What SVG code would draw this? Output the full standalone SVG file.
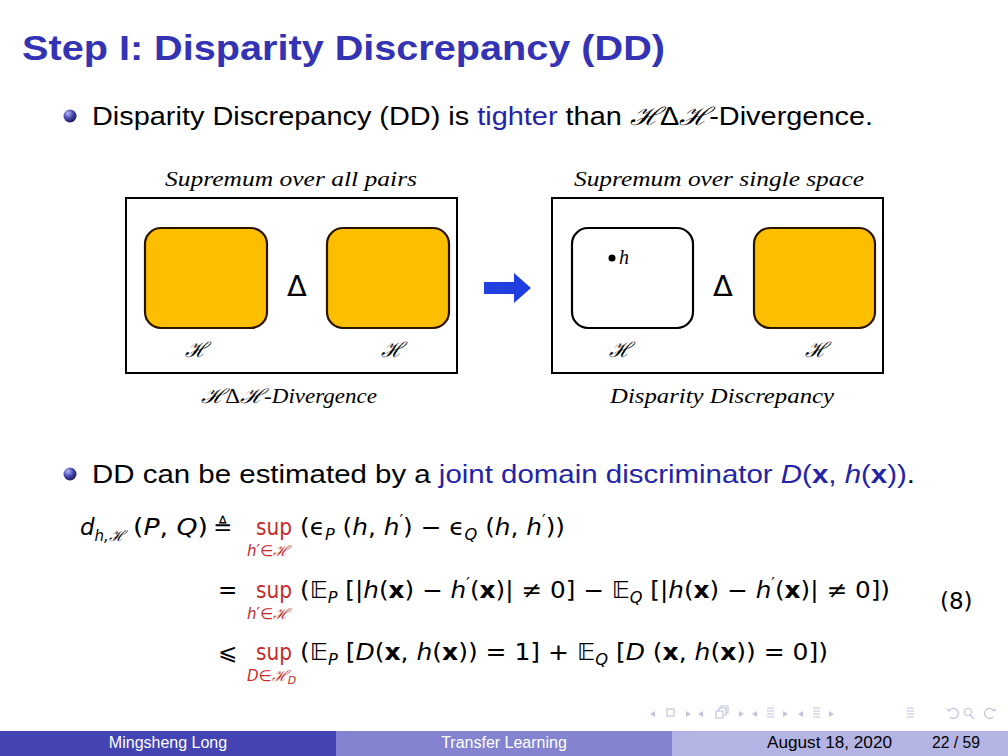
<svg xmlns="http://www.w3.org/2000/svg" width="1008" height="756" viewBox="0 0 1008 756">
<defs>
<radialGradient id="ball" cx="0.35" cy="0.3" r="0.75">
<stop offset="0" stop-color="#b8b8f0"/>
<stop offset="0.5" stop-color="#4a4ab8"/>
<stop offset="1" stop-color="#18184a"/>
</radialGradient>
<style>
.title{font-family:"Liberation Sans","DejaVu Sans",sans-serif;font-weight:bold;font-size:35px;fill:#3333b3}
.body{font-family:"Liberation Sans","DejaVu Sans",sans-serif;font-size:25px;fill:#000}
.blue{fill:#2424a8}
.cap{font-family:"Liberation Serif","DejaVu Serif",serif;font-style:italic;font-size:20px;fill:#000}
.cal{font-family:"DejaVu Serif",serif;font-style:italic;font-size:21px;fill:#000}
.delta{font-family:"DejaVu Sans",sans-serif;font-size:29px;fill:#000}
.box{fill:#fff;stroke:#000;stroke-width:2}
.yel{fill:#fcbf00;stroke:#2a1400;stroke-width:2.2}
.wht{fill:#fff;stroke:#000;stroke-width:2.2}
.m{font-family:"DejaVu Sans","Liberation Sans",sans-serif;font-size:23px;fill:#000}
.it{font-style:italic}
.bx{font-weight:bold}
.red{fill:#c42a2a}
.sub{font-size:15px}
.nav{fill:none;stroke:#c4c4dc;stroke-width:1.2}
.navf{fill:#c4c4dc}
.ft{font-family:"Liberation Sans","DejaVu Sans",sans-serif;font-size:16px}
</style>
</defs>
<rect width="1008" height="756" fill="#fff"/>

<text class="title" x="22" y="60" textLength="643" lengthAdjust="spacingAndGlyphs">Step I: Disparity Discrepancy (DD)</text>

<circle cx="70" cy="116" r="6.5" fill="url(#ball)"/>
<text class="body" x="92" y="125" textLength="781" lengthAdjust="spacingAndGlyphs">Disparity Discrepancy (DD) is <tspan class="blue">tighter</tspan> than <tspan font-family="DejaVu Serif" font-style="italic">ℋ</tspan>Δ<tspan font-family="DejaVu Serif" font-style="italic">ℋ</tspan>-Divergence.</text>

<g id="left-panel">
<text class="cap" x="165" y="186" textLength="252" lengthAdjust="spacingAndGlyphs">Supremum over all pairs</text>
<rect class="box" x="126" y="198" width="331" height="175"/>
<rect class="yel" x="145" y="228" width="122" height="100" rx="16"/>
<rect class="yel" x="327" y="228" width="122" height="100" rx="16"/>
<text class="delta" x="297" y="296" text-anchor="middle">Δ</text>
<text class="cal" x="185" y="357">ℋ</text>
<text class="cal" x="381" y="357">ℋ</text>
<text class="cap" x="201" y="403" textLength="176" lengthAdjust="spacingAndGlyphs"><tspan font-family="DejaVu Serif">ℋ</tspan><tspan font-style="normal">Δ</tspan><tspan font-family="DejaVu Serif">ℋ</tspan>-Divergence</text>
</g>

<g id="connectors">
<polygon points="484,282 514,282 514,273 531,288 514,303 514,294 484,294" fill="#1f3fe0"/>
</g>

<g id="right-panel">
<text class="cap" x="574" y="186" textLength="290" lengthAdjust="spacingAndGlyphs">Supremum over single space</text>
<rect class="box" x="552" y="198" width="331" height="175"/>
<rect class="wht" x="572" y="228" width="121" height="100" rx="16"/>
<circle cx="612" cy="258" r="3.5" fill="#000"/>
<text class="cap" x="619" y="264">h</text>
<text class="delta" x="723" y="296" text-anchor="middle">Δ</text>
<rect class="yel" x="754" y="228" width="121" height="100" rx="16"/>
<text class="cal" x="609" y="357">ℋ</text>
<text class="cal" x="805" y="357">ℋ</text>
<text class="cap" x="610" y="403" textLength="224" lengthAdjust="spacingAndGlyphs">Disparity Discrepancy</text>
</g>

<circle cx="70" cy="474" r="6.5" fill="url(#ball)"/>
<text class="body" x="92" y="483" textLength="823" lengthAdjust="spacingAndGlyphs">DD can be estimated by a <tspan class="blue">joint domain discriminator <tspan class="it">D</tspan>(<tspan class="bx">x</tspan>, <tspan class="it">h</tspan>(<tspan class="bx">x</tspan>))</tspan>.</text>

<g id="equation">
<!-- line 1 -->
<text class="m" x="80" y="535"><tspan class="it">d</tspan><tspan class="sub it" dy="6">h,</tspan><tspan class="sub" font-family="DejaVu Serif" font-style="italic">ℋ</tspan></text>
<text class="m" x="133" y="535" textLength="75" lengthAdjust="spacingAndGlyphs">(<tspan class="it">P</tspan>, <tspan class="it">Q</tspan>)</text>
<text class="m" x="213" y="535">≜</text>
<text class="m red" x="256" y="535" textLength="36" lengthAdjust="spacingAndGlyphs">sup</text>
<text class="m red sub" x="247" y="556"><tspan class="it">h</tspan>′∈<tspan font-family="DejaVu Serif" font-style="italic">ℋ</tspan></text>
<text class="m" x="300" y="535" textLength="265" lengthAdjust="spacingAndGlyphs">(ϵ<tspan class="sub it" dy="5">P</tspan><tspan dy="-5"> (</tspan><tspan class="it">h</tspan>, <tspan class="it">h</tspan><tspan class="sub" dy="-9">′</tspan><tspan dy="9">) − ϵ</tspan><tspan class="sub it" dy="5">Q</tspan><tspan dy="-5"> (</tspan><tspan class="it">h</tspan>, <tspan class="it">h</tspan><tspan class="sub" dy="-9">′</tspan><tspan dy="9">))</tspan></text>

<!-- line 2 -->
<text class="m" x="218" y="598">=</text>
<text class="m red" x="256" y="598" textLength="36" lengthAdjust="spacingAndGlyphs">sup</text>
<text class="m red sub" x="247" y="619"><tspan class="it">h</tspan>′∈<tspan font-family="DejaVu Serif" font-style="italic">ℋ</tspan></text>
<text class="m" x="300" y="598" textLength="590" lengthAdjust="spacingAndGlyphs">(𝔼<tspan class="sub it" dy="5">P</tspan><tspan dy="-5"> [|</tspan><tspan class="it">h</tspan>(<tspan class="bx">x</tspan>) − <tspan class="it">h</tspan><tspan class="sub" dy="-9">′</tspan><tspan dy="9">(</tspan><tspan class="bx">x</tspan>)| ≠ 0] − 𝔼<tspan class="sub it" dy="5">Q</tspan><tspan dy="-5"> [|</tspan><tspan class="it">h</tspan>(<tspan class="bx">x</tspan>) − <tspan class="it">h</tspan><tspan class="sub" dy="-9">′</tspan><tspan dy="9">(</tspan><tspan class="bx">x</tspan>)| ≠ 0])</text>
<text class="m" x="940" y="609" font-size="25">(8)</text>

<!-- line 3 -->
<text class="m" x="218" y="660">⩽</text>
<text class="m red" x="256" y="660" textLength="36" lengthAdjust="spacingAndGlyphs">sup</text>
<text class="m red sub" x="247" y="681"><tspan class="it">D</tspan>∈<tspan font-family="DejaVu Serif" font-style="italic">ℋ</tspan><tspan class="it" font-size="11" dy="3">D</tspan></text>
<text class="m" x="300" y="660" textLength="528" lengthAdjust="spacingAndGlyphs">(𝔼<tspan class="sub it" dy="5">P</tspan><tspan dy="-5"> [</tspan><tspan class="it">D</tspan>(<tspan class="bx">x</tspan>, <tspan class="it">h</tspan>(<tspan class="bx">x</tspan>)) = 1] + 𝔼<tspan class="sub it" dy="5">Q</tspan><tspan dy="-5"> [</tspan><tspan class="it">D</tspan> (<tspan class="bx">x</tspan>, <tspan class="it">h</tspan>(<tspan class="bx">x</tspan>)) = 0])</text>
</g>

<g id="navigation">
<polygon class="navf" points="655,711 650,714 655,717"/>
<rect class="nav" x="667" y="709" width="7" height="7"/>
<polygon class="navf" points="686,711 691,714 686,717"/>
<polygon class="navf" points="703,711 698,714 703,717"/>
<rect class="nav" x="716" y="711" width="7" height="7"/>
<path class="nav" d="M719,711 V708 H726 V715 H723 M721,708 V706 H728 V713 H726"/>
<polygon class="navf" points="739,711 744,714 739,717"/>
<polygon class="navf" points="757,711 752,714 757,717"/>
<path class="nav" d="M767,708 h7 M767,711 h7 M767,714 h7 M767,717 h7"/>
<polygon class="navf" points="783,711 788,714 783,717"/>
<polygon class="navf" points="803,711 798,714 803,717"/>
<path class="nav" d="M813,708 h7 M813,711 h7 M813,714 h7 M813,717 h7"/>
<polygon class="navf" points="829,711 834,714 829,717"/>
<path class="nav" d="M907,708 h7 M907,711 h7 M907,714 h7 M907,717 h7"/>
<path class="nav" d="M949,711 a5,5 0 1 1 1,6 M947,709 l2,2 l2,-1"/>
<circle class="nav" cx="968" cy="712" r="3.5"/>
<path class="nav" d="M970,715 l4,4"/>
<path class="nav" d="M994,711 a5,5 0 1 0 -1,6 M996,709 l-2,2 l-2,-1"/>
</g>

<g id="footer">
<rect x="0" y="731" width="336" height="25" fill="#4343b3"/>
<rect x="336" y="731" width="336" height="25" fill="#8383cf"/>
<rect x="672" y="731" width="336" height="25" fill="#b4b4e4"/>
<text class="ft" x="168" y="748" text-anchor="middle" fill="#fff">Mingsheng Long</text>
<text class="ft" x="504" y="748" text-anchor="middle" fill="#fff">Transfer Learning</text>
<text class="ft" x="767" y="748" fill="#000" textLength="125" lengthAdjust="spacingAndGlyphs">August 18, 2020</text>
<text class="ft" x="932" y="748" fill="#000" textLength="48" lengthAdjust="spacingAndGlyphs">22 / 59</text>
</g>
</svg>
